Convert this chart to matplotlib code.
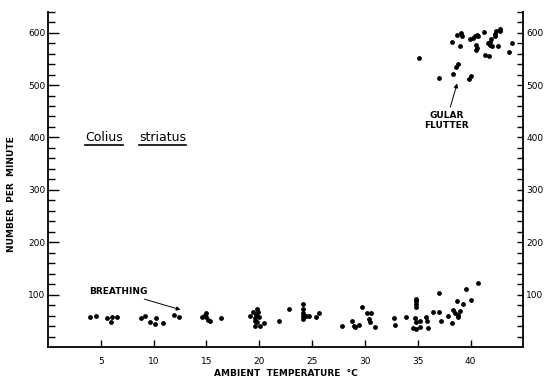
import matplotlib.pyplot as plt
from matplotlib.lines import Line2D
import numpy as np

# breathing rate (low cluster)
breathing_temp = [4.0, 4.5, 5.6, 6.0, 6.1, 6.5,
                  8.8, 9.2, 9.7, 10.1, 10.25, 10.9, 11.9, 12.4,
                  14.6, 14.8, 15.0, 14.95, 15.1, 15.3, 16.4,
                  19.1, 19.4, 19.6, 19.8, 19.9, 19.7, 19.6, 19.8, 19.6, 20.1, 20.4, 20.0,
                  21.9, 22.8,
                  24.1, 24.15, 24.15, 24.15, 24.15, 24.45, 24.7, 25.4, 25.6,
                  27.85, 28.8, 28.95, 29.1, 29.4,
                  29.75, 30.2, 30.6, 30.4, 30.5, 30.9,
                  32.7, 32.85, 33.9,
                  34.85, 34.85, 34.8, 34.8, 34.75, 34.8, 34.55, 34.8, 35.2, 35.2, 35.8, 35.9, 36.0,
                  36.4, 36.96, 36.96, 37.2, 37.87, 38.2, 38.35, 38.5, 38.72, 38.98, 38.8, 38.76,
                  39.3, 39.6, 40.0, 40.7]
breathing_rate = [58, 60, 55, 48, 58, 58,
                  55, 60, 48, 44, 55, 45, 62, 57,
                  57, 60, 64, 57, 52, 50, 55,
                  60, 66, 56, 73, 67, 62, 50, 48, 41, 41, 46, 58,
                  49, 73,
                  82, 73, 65, 59, 53, 59, 59, 57, 65,
                  40, 49, 41, 38, 42,
                  76, 65, 65, 54, 47, 38,
                  56, 42, 58,
                  92, 87, 83, 76, 55, 48, 36, 34, 50, 39, 57, 49, 37,
                  67, 103, 67, 50, 60, 45, 71, 64, 87, 69, 62, 57,
                  83, 110, 90, 122]

# gular flutter (high cluster)
flutter_temp = [35.07, 37.0, 38.35, 38.6, 38.8, 39.8, 40.05,
                38.28, 38.7, 39.1, 39.2, 38.97,
                39.9, 40.2, 40.4, 40.6, 40.7, 40.5, 40.6, 40.55,
                41.25, 41.34, 41.75, 41.6, 41.8, 41.9, 41.85, 42.0,
                42.4, 42.3, 42.3, 42.77, 42.8, 42.6, 43.6, 43.9]
flutter_rate = [552, 514, 522, 534, 541, 511, 518,
                583, 596, 599, 593, 574,
                587, 590, 594, 596, 593, 577, 571, 566,
                601, 557, 555, 580, 583, 587, 577, 574,
                604, 598, 593, 607, 604, 575, 564, 581]

x_ticks = [5, 10, 15, 20, 25, 30, 35, 40]
y_ticks = [100, 200, 300, 400, 500, 600]

fig = plt.figure(figsize=(5.47, 3.79), dpi=100)
ax = fig.add_axes([48 / 547, 1 - 347 / 379, 475.5 / 547, 335.3 / 379])
ax.set_xlim(0, 45)
ax.set_ylim(0, 640)
ax.spines["top"].set_visible(False)
ax.spines["right"].set_visible(False)
for s in ("left", "bottom"):
    ax.spines[s].set_linewidth(1.3)

ax.set_xticks(x_ticks)
ax.set_xticklabels([str(t) for t in x_ticks])
ax.set_yticks(y_ticks)
ax.set_yticks(np.arange(20, 660, 20), minor=True)
ax.tick_params(axis="x", direction="in", length=5, width=1, pad=7, labelsize=6.5)
ax.tick_params(axis="y", which="major", direction="in", length=8, width=1, pad=2, labelsize=6.5)
ax.tick_params(axis="y", which="minor", direction="in", length=5, width=1)

ax2 = ax.twinx()
ax2.set_ylim(0, 640)
for s in ("left", "top", "bottom"):
    ax2.spines[s].set_visible(False)
ax2.spines["right"].set_linewidth(1.3)
ax2.set_yticks(y_ticks)
ax2.set_yticks(np.arange(20, 660, 20), minor=True)
ax2.tick_params(axis="y", which="both", direction="in", length=4, width=1, pad=2, labelsize=6.5)

ax.scatter(breathing_temp, breathing_rate, s=6, color="black", zorder=3)
ax.scatter(flutter_temp, flutter_rate, s=6, color="black", zorder=3)

fig.text(285.5 / 547, 1 - 373 / 379, "AMBIENT  TEMPERATURE  °C", fontsize=6.5,
         fontweight="bold", ha="center", va="center")
fig.text(12 / 547, 1 - 194 / 379, "NUMBER  PER  MINUTE", rotation=90,
         fontsize=6.5, fontweight="bold", ha="center", va="center")

ax.annotate("BREATHING", xy=(12.55, 71), xytext=(3.9, 106), fontsize=6.5,
            fontweight="bold", va="center",
            arrowprops=dict(arrowstyle="-|>", color="black", lw=0.7,
                            mutation_scale=6, shrinkA=1, shrinkB=0))
ax.annotate("GULAR\nFLUTTER", xy=(38.72, 503), xytext=(37.7, 432), fontsize=6.5,
            fontweight="bold", ha="center", va="center", linespacing=1.1,
            arrowprops=dict(arrowstyle="-|>", color="black", lw=0.7,
                            mutation_scale=6, shrinkA=1, shrinkB=0))

t1 = ax.text(3.5, 400, "Colius", fontsize=9, va="center")
t2 = ax.text(8.6, 400, "striatus", fontsize=9, va="center")

# underline each word of the species name
fig.canvas.draw()
inv = fig.transFigure.inverted()
for t in (t1, t2):
    bb = t.get_window_extent().transformed(inv)
    fig.add_artist(Line2D([bb.x0, bb.x1], [bb.y0 - 0.004, bb.y0 - 0.004],
                          color="black", lw=1.2))

fig.savefig("out.png", dpi=100)
